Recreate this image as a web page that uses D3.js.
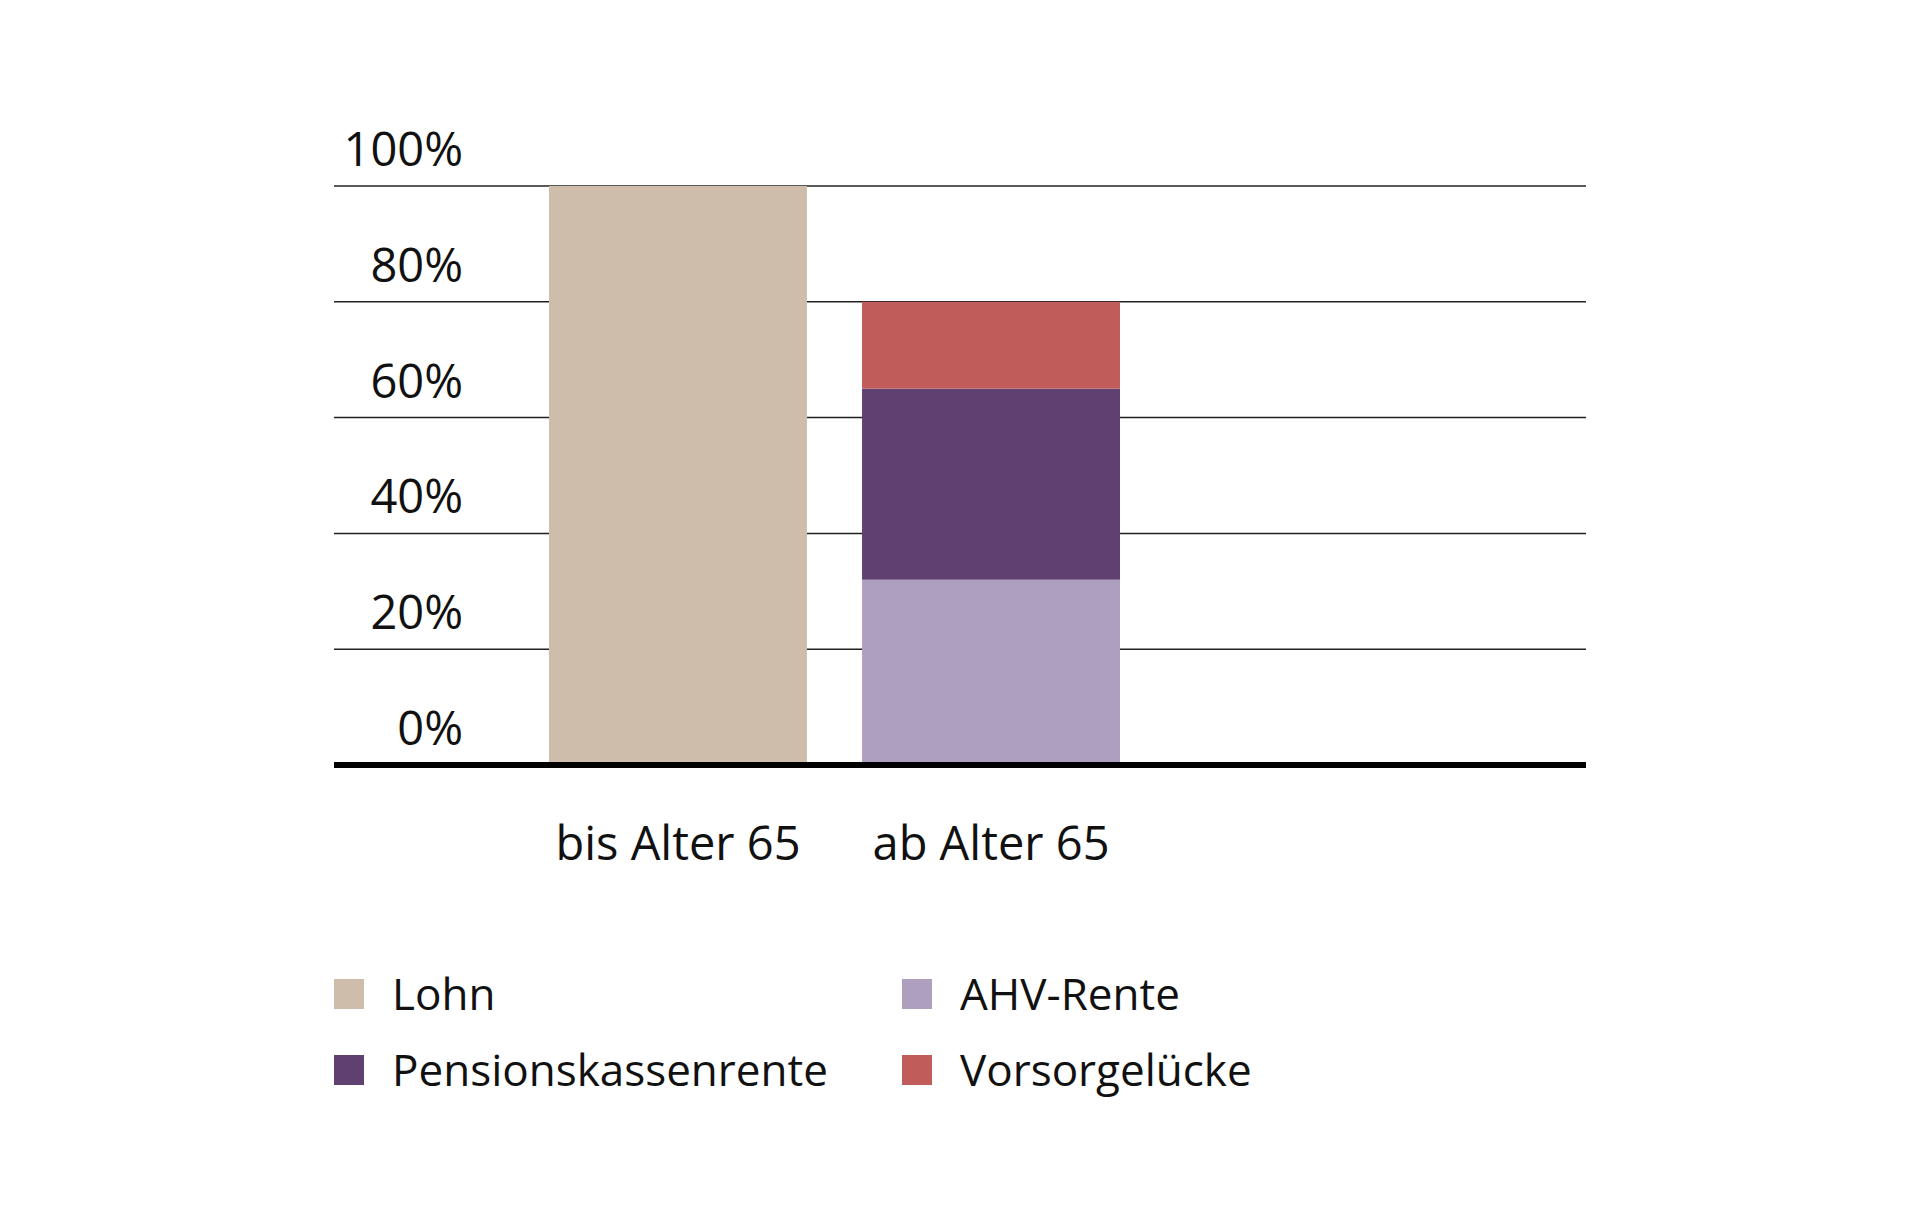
<!DOCTYPE html>
<html><head><meta charset="utf-8">
<script src="https://cdn.jsdelivr.net/npm/d3@7"></script>
<style>body{margin:0;background:#fff}svg{display:block}text{font-family:"Open Sans",sans-serif;fill:#111}</style>
</head><body><svg id="c" width="1920" height="1211"></svg>
<script>
const categories = ["bis Alter 65", "ab Alter 65"];
const seriesNames = ["Lohn", "AHV-Rente", "Pensionskassenrente", "Vorsorgelücke"];
const lohn = [100, 0];
const ahv = [0, 32];
const pk = [0, 33];
const luecke = [0, 15];
const tickValues = [0, 20, 40, 60, 80, 100];
const colors = ["#cebdaa", "#af9fbe", "#5f4071", "#c05c5a"];

const svg = d3.select("#c");
const y = d3.scaleLinear().domain([0, 100]).range([765, 186]);
const x = d3.scaleBand().domain(categories).range([549, 1120]).paddingInner(0.176);

// gridlines
svg.selectAll("line.g").data(tickValues.filter(v => v > 0)).enter().append("line")
  .attr("x1", 334).attr("x2", 1586).attr("y1", d => y(d)).attr("y2", d => y(d))
  .attr("stroke", "#222").attr("stroke-width", 1.5);
svg.selectAll("text.t").data(tickValues).enter().append("text")
  .attr("x", 463).attr("y", d => y(d) - 20).attr("text-anchor", "end")
  .attr("font-size", 47).text(d => d + "%");

const series = [lohn, ahv, pk, luecke];
const rows = categories.map((c, i) => {
  const o = { cat: c };
  seriesNames.forEach((s, j) => o[s] = series[j][i]);
  return o;
});
const stack = d3.stack().keys(seriesNames)(rows);
stack.forEach((layer, j) => {
  svg.selectAll(null).data(layer).enter().append("rect")
    .attr("x", d => x(d.data.cat)).attr("width", x.bandwidth())
    .attr("y", d => y(d[1])).attr("height", d => y(d[0]) - y(d[1]))
    .attr("fill", colors[j]);
});

svg.append("line").attr("x1", 334).attr("x2", 1586).attr("y1", y(0)).attr("y2", y(0))
  .attr("stroke", "#000").attr("stroke-width", 6);

svg.selectAll("text.c").data(categories).enter().append("text")
  .attr("x", d => x(d) + x.bandwidth() / 2).attr("y", 860).attr("text-anchor", "middle")
  .attr("font-size", 47).text(d => d);

const legend = [
  { name: "Lohn", c: 0, x: 334, y: 994 },
  { name: "AHV-Rente", c: 1, x: 902, y: 994 },
  { name: "Pensionskassenrente", c: 2, x: 334, y: 1070 },
  { name: "Vorsorgelücke", c: 3, x: 902, y: 1070 }
];
legend.forEach(l => {
  svg.append("rect").attr("x", l.x).attr("y", l.y - 15).attr("width", 30).attr("height", 30).attr("fill", colors[l.c]);
  svg.append("text").attr("x", l.x + 58).attr("y", l.y + 16).attr("font-size", 44).text(l.name);
});
</script></body></html>
